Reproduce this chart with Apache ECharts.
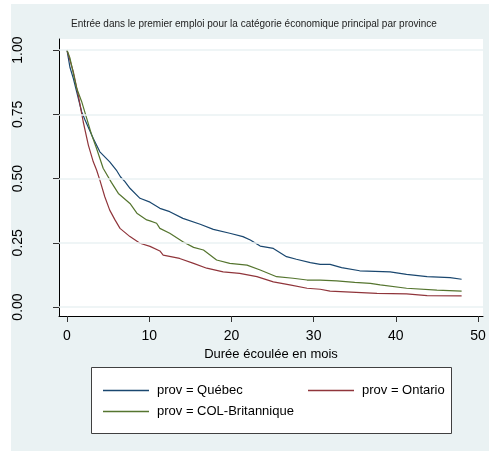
<!DOCTYPE html>
<html>
<head>
<meta charset="utf-8">
<script src="https://cdn.jsdelivr.net/npm/echarts@6/dist/echarts.min.js"></script>
<style>
html,body{margin:0;padding:0;background:#ffffff;}
#chart{position:absolute;left:11px;top:4px;width:478px;height:447px;}
</style>
</head>
<body>
<div id="chart"></div>
<script>
// ---- Data ----
const titleText = "Entrée dans le premier emploi pour la catégorie économique principal par province";
const xTitle = "Durée écoulée en mois";
const xTicks = [0, 10, 20, 30, 40, 50];
const yTicks = [0, 0.25, 0.5, 0.75, 1];
const seriesNames = ["prov = Québec", "prov = Ontario", "prov = COL-Britannique"];

const quebecT = [0, 0.37, 0.77, 1.78, 2.2, 3.2, 4.0, 5.2, 6.0, 6.5, 7.05, 7.66, 8.88, 10.1, 11.3, 12.5, 14.1, 16.2, 17.8, 19.8, 21.4, 22.3, 23.5, 25.1, 26.7, 27.9, 29.6, 30.8, 32.0, 33.4, 35.6, 39.3, 41.3, 43.8, 46.6, 48.0];
const quebecS = [1.0, 0.932, 0.89, 0.76, 0.728, 0.656, 0.604, 0.565, 0.533, 0.507, 0.488, 0.462, 0.423, 0.408, 0.384, 0.371, 0.345, 0.322, 0.302, 0.287, 0.274, 0.261, 0.237, 0.228, 0.196, 0.186, 0.173, 0.166, 0.166, 0.153, 0.141, 0.137, 0.127, 0.118, 0.114, 0.108];

const ontarioT = [0, 0.77, 1.37, 1.98, 2.6, 3.2, 3.6, 4.0, 4.6, 5.2, 5.84, 6.45, 7.66, 8.88, 10.1, 11.3, 11.7, 13.7, 15.4, 17.0, 19.0, 21.0, 23.1, 25.1, 27.1, 29.2, 30.8, 32.0, 37.7, 41.3, 43.8, 48.0];
const ontarioS = [1.0, 0.916, 0.825, 0.72, 0.63, 0.565, 0.533, 0.494, 0.429, 0.377, 0.339, 0.306, 0.274, 0.248, 0.236, 0.218, 0.202, 0.189, 0.17, 0.151, 0.137, 0.131, 0.118, 0.098, 0.086, 0.073, 0.069, 0.062, 0.053, 0.051, 0.044, 0.043];

const colbT = [0, 0.37, 1.18, 1.78, 2.4, 3.0, 3.6, 4.4, 5.4, 6.25, 7.66, 8.5, 9.7, 10.1, 10.9, 11.3, 12.5, 14.1, 15.4, 16.6, 18.2, 19.8, 21.9, 23.5, 25.5, 27.5, 29.2, 30.8, 32.8, 35.0, 36.9, 38.1, 41.3, 45.0, 48.0];
const colbS = [1.0, 0.968, 0.851, 0.80, 0.734, 0.67, 0.617, 0.54, 0.485, 0.442, 0.403, 0.365, 0.339, 0.335, 0.326, 0.306, 0.287, 0.254, 0.232, 0.222, 0.183, 0.17, 0.163, 0.144, 0.118, 0.112, 0.105, 0.105, 0.102, 0.096, 0.092, 0.086, 0.073, 0.066, 0.062];

const colors = ["#1a476f", "#90353b", "#55752f"];
// ---------------------------------------------------

function pairs(t, s) { return t.map((v, i) => [v, s[i]]); }
const FONT = "'Liberation Sans', Arial, sans-serif";

const chart = echarts.init(document.getElementById('chart'), null, {renderer: 'canvas'});

const lineSeries = [
  {name: seriesNames[0], data: pairs(quebecT, quebecS), color: colors[0]},
  {name: seriesNames[1], data: pairs(ontarioT, ontarioS), color: colors[1]},
  {name: seriesNames[2], data: pairs(colbT, colbS), color: colors[2]}
].map(s => ({
  name: s.name, type: 'line', data: s.data, symbol: 'none', z: 3,
  lineStyle: {color: s.color, width: 1.2}, itemStyle: {color: s.color},
  animation: false
}));

const legendCommon = {
  orient: 'horizontal', padding: 0, itemWidth: 46, itemHeight: 1.3, icon: 'rect',
  textStyle: {fontFamily: FONT, fontSize: 13, color: '#000', padding: [0, 0, 0, 3]},
  selectedMode: false
};

chart.setOption({
  backgroundColor: '#eaf2f3',
  animation: false,
  title: {
    text: titleText, left: 243, top: 15, textAlign: 'center', padding: 0,
    textStyle: {fontFamily: FONT, fontSize: 10, fontWeight: 'normal', color: '#222'}
  },
  grid: {
    left: 48, top: 35, right: 6, bottom: 135,
    show: true, backgroundColor: '#ffffff', borderWidth: 0
  },
  xAxis: {
    type: 'value', min: -0.97, max: 50.6,
    name: xTitle, nameLocation: 'middle', nameGap: 25,
    nameTextStyle: {fontFamily: FONT, fontSize: 13, color: '#000'},
    axisLine: {show: true, onZero: false, lineStyle: {color: '#000', width: 1}},
    axisTick: {show: true, customValues: xTicks, length: 6, lineStyle: {color: '#333'}},
    axisLabel: {show: true, customValues: xTicks, margin: 13, fontFamily: FONT, fontSize: 14, color: '#000'},
    splitLine: {show: false}
  },
  yAxis: {
    type: 'value', min: -0.035, max: 1.043,
    axisLine: {show: true, onZero: false, lineStyle: {color: '#000', width: 1}},
    axisTick: {show: true, customValues: yTicks, length: 6, lineStyle: {color: '#333'}},
    axisLabel: {show: true, customValues: yTicks, rotate: 90, margin: 34, fontFamily: FONT, fontSize: 14, color: '#000',
      formatter: v => v.toFixed(2)},
    splitLine: {show: false}
  },
  graphic: [{
    type: 'rect', left: 80, top: 363, z: 0,
    shape: {width: 360, height: 66},
    style: {fill: '#ffffff', stroke: '#404040', lineWidth: 1}
  }],
  legend: [
    Object.assign({}, legendCommon, {data: [{name: seriesNames[0], itemStyle: {color: colors[0]}}], left: 92, top: 380}),
    Object.assign({}, legendCommon, {data: [{name: seriesNames[1], itemStyle: {color: colors[1]}}], left: 297, top: 380}),
    Object.assign({}, legendCommon, {data: [{name: seriesNames[2], itemStyle: {color: colors[2]}}], left: 92, top: 401})
  ],
  series: [{
    name: '_grid', type: 'line', data: [], z: 1, silent: true,
    markLine: {
      silent: true, symbol: 'none', animation: false,
      label: {show: false},
      lineStyle: {color: '#eaf2f3', width: 1.5, type: 'solid'},
      data: yTicks.map(v => ({yAxis: v}))
    }
  }].concat(lineSeries)
});
</script>
</body>
</html>
